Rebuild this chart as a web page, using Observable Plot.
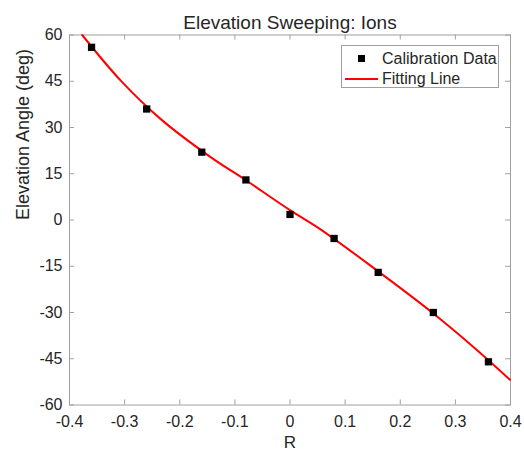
<!DOCTYPE html>
<html>
<head>
<meta charset="utf-8">
<script src="https://cdn.jsdelivr.net/npm/d3@7"></script>
<script src="https://cdn.jsdelivr.net/npm/@observablehq/plot@0.6"></script>
<style>
  html, body { margin: 0; padding: 0; background: #fff; }
  #wrap { position: relative; width: 524px; height: 454px; font-family: "Liberation Sans", Arial, sans-serif; }
  #legend {
    position: absolute; left: 341px; top: 45px; width: 158px; height: 43px;
    border: 1px solid #a0a0a0; background: #fff; box-sizing: border-box;
    font-size: 16px; color: #262626;
  }
  .row { position: absolute; left: 0; height: 20px; line-height: 20px; white-space: nowrap; }
  .row span.t { position: absolute; left: 40px; top: 0; }
  .sq { position: absolute; left: 16px; top: 6px; width: 7px; height: 7px; background: #000; }
  .ln { position: absolute; left: 3px; top: 9px; width: 33px; height: 2px; background: #ff0000; }
</style>
</head>
<body>
<div id="wrap">
  <div id="chart"></div>
  <div id="legend">
    <div class="row" style="top:3px"><div class="sq"></div><span class="t">Calibration Data</span></div>
    <div class="row" style="top:23px"><div class="ln"></div><span class="t">Fitting Line</span></div>
  </div>
</div>
<script>
// Calibration data
const calR = [-0.36, -0.26, -0.16, -0.08, 0, 0.08, 0.16, 0.26, 0.36];
const calAngle = [56, 36, 22, 13, 1.8, -6, -17, -30, -46];

// Fitting line
const fitR = [-0.377, -0.307, -0.235, -0.144, -0.08, 0, 0.056, 0.158, 0.255, 0.340, 0.399];
const fitAngle = [60, 45.2, 32.8, 20.4, 12.9, 3.2, -3.1, -16.4, -29.6, -42.3, -51.8];

const xTicks = [-0.4, -0.3, -0.2, -0.1, 0, 0.1, 0.2, 0.3, 0.4];
const yTicks = [-60, -45, -30, -15, 0, 15, 30, 45, 60];

const calData = calR.map((r, i) => ({r, a: calAngle[i]}));
const fitData = fitR.map((r, i) => ({r, a: fitAngle[i]}));

const W = 524, H = 454;
const mL = 69, mR = 14, mT = 34.5, mB = 49.5;
const plotW = W - mL - mR, plotH = H - mT - mB;
const axisColor = "#a0a0a0";
const textColor = "#262626";
const fmt = d => String(d);

const chart = Plot.plot({
  width: W,
  height: H,
  marginLeft: mL,
  marginRight: mR,
  marginTop: mT,
  marginBottom: mB,
  style: {fontFamily: "'Liberation Sans', Arial, sans-serif", fontSize: "16px", color: textColor, background: "#fff"},
  x: {domain: [-0.4, 0.4]},
  y: {domain: [-60, 60]},
  marks: [
    Plot.frame({stroke: axisColor, strokeWidth: 1}),
    // inward ticks on all four sides
    Plot.tickX(xTicks, {x: d => d, insetTop: plotH - 5, stroke: axisColor}),
    Plot.tickX(xTicks, {x: d => d, insetBottom: plotH - 5, stroke: axisColor}),
    Plot.tickY(yTicks, {y: d => d, insetRight: plotW - 5, stroke: axisColor}),
    Plot.tickY(yTicks, {y: d => d, insetLeft: plotW - 5, stroke: axisColor}),
    Plot.axisX(xTicks, {tickSize: 0, tickPadding: 11, tickFormat: fmt, label: null, fill: textColor, fontSize: 16}),
    Plot.axisY(yTicks, {tickSize: 0, tickPadding: 7, tickFormat: fmt, label: null, fill: textColor, fontSize: 16}),
    Plot.line(fitData, {x: "r", y: "a", stroke: "#ff0000", strokeWidth: 2, curve: "catmull-rom"}),
    Plot.dot(calData, {x: "r", y: "a", symbol: "square", r: 4.1, fill: "#000", stroke: "none"}),
    Plot.text(["Elevation Sweeping: Ions"], {frameAnchor: "top", dy: -12.5, lineAnchor: "middle", fontSize: 19, fill: textColor}),
    Plot.text(["R"], {frameAnchor: "bottom", dy: 37.5, lineAnchor: "middle", fontSize: 17, fill: textColor}),
    Plot.text(["Elevation Angle (deg)"], {frameAnchor: "left", dx: -46, rotate: -90, lineAnchor: "middle", fontSize: 18, fill: textColor})
  ]
});
document.getElementById("chart").appendChild(chart);
</script>
</body>
</html>
